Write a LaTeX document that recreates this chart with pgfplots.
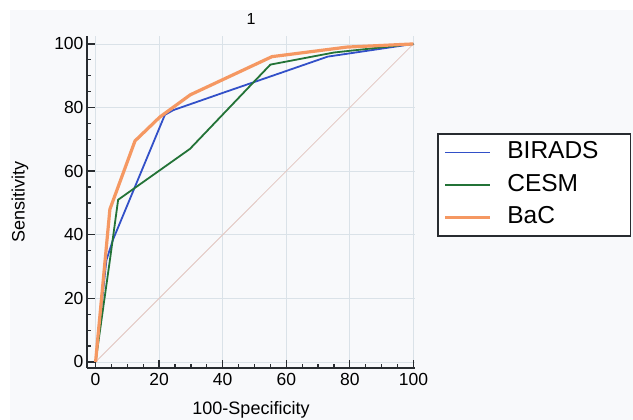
\documentclass[border=0pt]{standalone}
\usepackage{pgfplots}
\pgfplotsset{compat=1.18}
\usepackage{fontspec}
\setmainfont{Liberation Sans}

\definecolor{bgtint}{RGB}{248,249,251}
\definecolor{axdark}{RGB}{40,44,48}
\definecolor{gridc}{RGB}{218,226,232}
\definecolor{cbir}{RGB}{50,80,200}
\definecolor{ccesm}{RGB}{35,115,55}
\definecolor{cbac}{RGB}{245,152,98}
\definecolor{cdiag}{RGB}{226,196,190}

\begin{document}
\begin{tikzpicture}
  \useasboundingbox (0pt,0pt) rectangle (633pt,420pt);
  \fill[bgtint] (10pt,0pt) rectangle (633pt,410pt);
  \begin{axis}[
    at={(87pt,52pt)}, anchor=south west,
    scale only axis,
    width=328pt, height=331.7pt,
    xmin=-2.7, xmax=100.5,
    ymin=-1.9, ymax=102.4,
    xtick={0,20,...,100}, ytick={0,20,...,100},
    minor tick num=3,
    tick align=inside,
    major tick length=8pt, minor tick length=4pt,
    tick style={line width=1.3pt, axdark},
    axis x line*=bottom, axis y line*=left,
    axis line style={line width=2.6pt, axdark},
    grid=major,
    major grid style={gridc, line width=0.7pt},
    /pgf/number format/assume math mode=true,
    tick label style={font=\fontsize{17.5}{19}\selectfont, text=black},
    xticklabel style={yshift=-2pt},
    title={1},
    title style={font=\fontsize{16}{18}\selectfont, at={(axis description cs:0.5,1)}, anchor=center, yshift=11pt},
    xlabel={100-Specificity},
    xlabel style={font=\fontsize{18}{20}\selectfont, at={(axis description cs:0.5,-0.1266)}, anchor=center},
    ylabel={Sensitivity},
    ylabel style={font=\fontsize{18}{20}\selectfont, at={(axis description cs:-0.204,0.5)}, anchor=center, rotate=0},
    legend style={at={(axis description cs:1.067,0.708)}, anchor=north west,
      draw=axdark, line width=1.6pt, fill=white,
      font=\fontsize{24.5}{27}\selectfont,
      inner xsep=6pt, inner ysep=5pt, row sep=5.5pt,
      nodes={text width=115pt, text height=18pt, text depth=5pt}},
    legend cell align=left,
    legend image code/.code={\draw[#1] (0pt,0pt) -- (45pt,0pt);\path[draw=none,fill=none] (0pt,0pt) -- (60pt,0pt);},
  ]
    \addplot[cdiag, line width=0.8pt, forget plot] coordinates {(0,0) (100,100)};
    \addplot[cbir, line width=1.8pt] coordinates {
      (0,0) (3.4,32) (5.5,38.5) (21.8,77.7) (24.5,79.2) (40,84.6) (58,90.8) (73,96) (100,100)};
    \addlegendentry{BIRADS}
    \addplot[ccesm, line width=1.8pt] coordinates {
      (0,0) (4.5,32) (7.1,51) (29.7,67) (55,93.5) (75,97.3) (100,100)};
    \addlegendentry{CESM}
    \addplot[cbac, line width=3.2pt] coordinates {
      (0,0) (4.5,48) (12.4,69.5) (20.2,77) (29.8,84) (55.5,96) (79,99) (100,100)};
    \addlegendentry{BaC}
  \end{axis}
\end{tikzpicture}
\end{document}
